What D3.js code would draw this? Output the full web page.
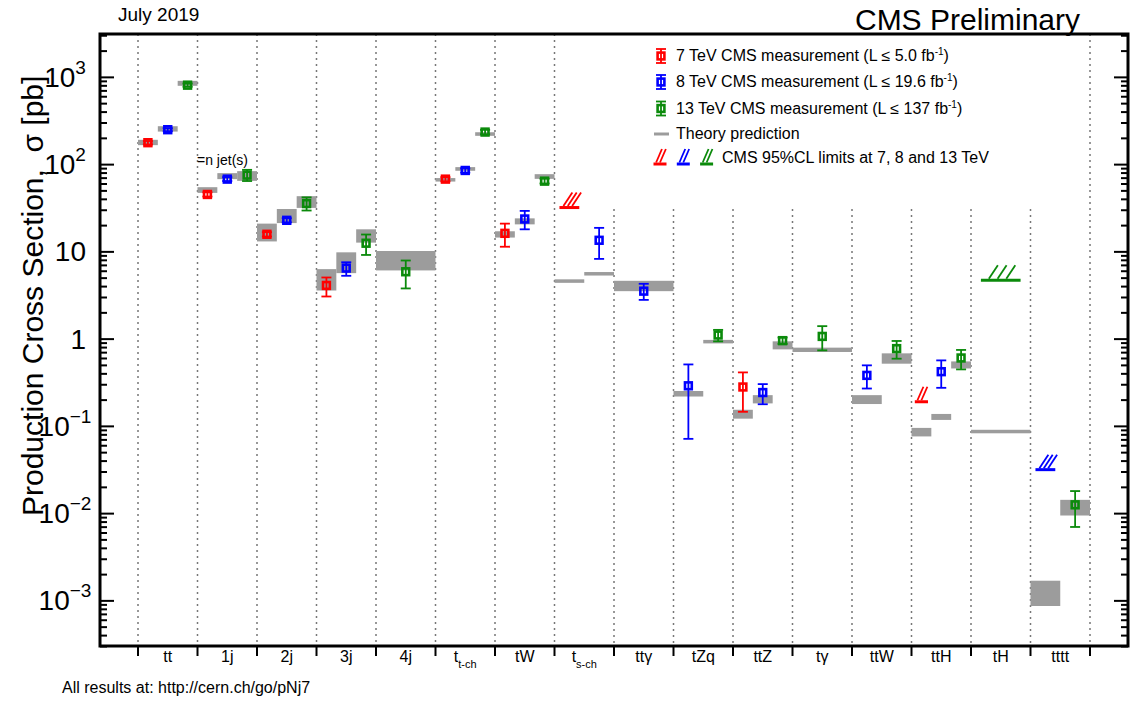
<!DOCTYPE html>
<html>
<head>
<meta charset="utf-8">
<script src="https://cdn.jsdelivr.net/npm/d3@7"></script>
<style>
  body { margin: 0; background: #fff; }
  text { font-family: "Liberation Sans", Arial, sans-serif; fill: #000; }
</style>
</head>
<body>
<svg width="1135" height="706"></svg>
<script>
// process bins along the x axis
const categories = ["tt", "1j", "2j", "3j", "4j", "t-ch", "tW", "s-ch", "ttg", "tZq", "ttZ", "tg", "ttW", "ttH", "tH", "tttt"];
const categoryLabels = [
    ["tt", ""], ["1j", ""], ["2j", ""], ["3j", ""], ["4j", ""], ["t", "t-ch"], ["tW", ""], ["t", "s-ch"],
    ["ttγ", ""], ["tZq", ""], ["ttZ", ""], ["tγ", ""], ["ttW", ""], ["ttH", ""], ["tH", ""], ["tttt", ""],
];
// beam energies sharing each bin (left to right)
const categoryEnergies = [
    ["7", "8", "13"], ["7", "8", "13"], ["7", "8", "13"], ["7", "8", "13"], ["13"],
    ["7", "8", "13"], ["7", "8", "13"], ["7", "8"], ["8"], ["8", "13"],
    ["7", "8", "13"], ["13"], ["8", "13"], ["7", "8", "13"], ["13"], ["8", "13"],
];

// measurements: [bin, sigma, low, high] in pb
const meas7 = [
    ["tt", 176, 168, 184], ["1j", 44.9, 42.5, 47.5], ["2j", 15.7, 14.8, 16.6], ["3j", 4.07, 3.04, 5.02],
    ["t-ch", 67.3, 63.5, 71], ["tW", 16.1, 11.3, 20.8], ["ttZ", 0.279, 0.145, 0.41],
];
const meas8 = [
    ["tt", 248, 238, 258], ["1j", 67.3, 64, 71], ["2j", 22.7, 21.5, 24], ["3j", 6.43, 5.25, 7.5],
    ["t-ch", 84.6, 80, 89.5], ["tW", 23.5, 17.9, 29.1], ["s-ch", 13.4, 8.2, 18.6], ["ttg", 3.5, 2.78, 4.25],
    ["tZq", 0.288, 0.071, 0.506], ["ttZ", 0.241, 0.177, 0.301], ["ttW", 0.379, 0.268, 0.494],
    ["ttH", 0.418, 0.273, 0.563],
];
const meas13 = [
    ["tt", 803, 770, 840], ["1j", 74.8, 64, 86], ["2j", 35.3, 29.4, 41.6], ["3j", 12.4, 9.1, 15.6],
    ["4j", 5.84, 3.76, 7.86], ["t-ch", 233, 220, 247], ["tW", 63.8, 60, 68], ["tZq", 1.1, 0.93, 1.26],
    ["ttZ", 0.948, 0.87, 1.03], ["tg", 1.06, 0.734, 1.39], ["ttW", 0.768, 0.589, 0.94],
    ["ttH", 0.6, 0.444, 0.742], ["tttt", 0.01245, 0.00694, 0.0179],
];

// theory predictions: [bin, energy, low, high]
const theory = [
    ["tt", "7", 165, 190], ["tt", "8", 236, 272], ["tt", "13", 790, 900],
    ["1j", "7", 46.8, 54.4], ["1j", "8", 67.3, 78.8], ["1j", "13", 64.3, 83.1],
    ["2j", "7", 13.0, 20.8], ["2j", "8", 21.1, 30.6], ["2j", "13", 31.5, 42.9],
    ["3j", "7", 3.56, 6.26], ["3j", "8", 5.63, 9.75], ["3j", "13", 12.6, 17.9],
    ["4j", "13", 6.05, 10.1],
    ["t-ch", "7", 63.1, 69.2], ["t-ch", "8", 83.9, 92.4], ["t-ch", "13", 211, 232],
    ["tW", "7", 14.4, 17.0], ["tW", "8", 20.4, 23.9], ["tW", "13", 67.8, 76.7],
    ["s-ch", "7", 4.37, 4.77], ["s-ch", "8", 5.30, 5.78],
    ["ttg", "8", 3.5, 4.6],
    ["tZq", "8", 0.217, 0.251], ["tZq", "13", 0.883, 0.966],
    ["ttZ", "7", 0.121, 0.153], ["ttZ", "8", 0.181, 0.225], ["ttZ", "13", 0.753, 0.931],
    ["tg", "13", 0.703, 0.788],
    ["ttW", "8", 0.178, 0.225], ["ttW", "13", 0.516, 0.678],
    ["ttH", "7", 0.0757, 0.0948], ["ttH", "8", 0.117, 0.137], ["ttH", "13", 0.455, 0.548],
    ["tH", "13", 0.0824, 0.090],
    ["tttt", "8", 0.000862, 0.00168], ["tttt", "13", 0.00939, 0.0142],
];

// 95% CL upper limits: [bin, energy, sigma]
const limits = [["s-ch", "7", 31.8], ["ttH", "7", 0.189], ["tH", "13", 4.67], ["tttt", "8", 0.0315]];

const legendLines = [
    ["7", "7 TeV CMS measurement (L ≤ 5.0 fb", ")"],
    ["8", "8 TeV CMS measurement (L ≤ 19.6 fb", ")"],
    ["13", "13 TeV CMS measurement (L ≤ 137 fb", ")"],
];

const colors = { "7": "#ff0000", "8": "#0000ff", "13": "#0b8a0b" };
const theoryColor = "#9c9c9c";

const svg = d3.select("svg");
const frame = { left: 100, right: 1128, top: 34, bottom: 646 };
const legendArea = { x0: 600, x1: 1060, bottom: 209 };

const x = d3.scaleBand().domain(categories).range([frame.left + 38, frame.right - 38]);
const y = d3.scaleLog().domain([3e-4, 3.1e3]).range([frame.bottom, frame.top]);

// sub-column scale inside a bin
function slot(cat) {
    const energies = categoryEnergies[categories.indexOf(cat)];
    return d3.scaleBand().domain(energies).range([x(cat), x(cat) + x.bandwidth()]);
}

// bin separators (dotted)
const bounds = categories.map((c) => x(c)).concat([x(categories[categories.length - 1]) + x.bandwidth()]);
svg.append("g")
    .selectAll("line")
    .data(bounds)
    .join("line")
    .attr("x1", (d) => d)
    .attr("x2", (d) => d)
    .attr("y1", (d) => (d > legendArea.x0 && d < legendArea.x1 ? legendArea.bottom : frame.top))
    .attr("y2", frame.bottom)
    .attr("stroke", "#777")
    .attr("stroke-width", 1.5)
    .attr("stroke-dasharray", "2,4");

// theory boxes
svg.append("g")
    .selectAll("rect")
    .data(theory)
    .join("rect")
    .attr("x", (d) => slot(d[0])(d[1]))
    .attr("width", (d) => slot(d[0]).bandwidth())
    .attr("y", (d) => {
        const h = Math.max(y(d[2]) - y(d[3]), 3.5);
        return (y(d[2]) + y(d[3])) / 2 - h / 2;
    })
    .attr("height", (d) => Math.max(y(d[2]) - y(d[3]), 3.5))
    .attr("fill", theoryColor);

// limits: base line plus hatching
function drawLimit(g, cx, cy, w, color) {
    g.append("line")
        .attr("x1", cx - w / 2).attr("x2", cx + w / 2)
        .attr("y1", cy).attr("y2", cy)
        .attr("stroke", color).attr("stroke-width", 3);
    const n = w > 16 ? 3 : 2;
    const dx = Math.min(9, w * 0.45);
    for (let k = 0; k < n; k++) {
        const x0 = cx - w / 2 + w * (n === 3 ? 0.2 + 0.22 * k : 0.2 + 0.3 * k);
        g.append("line")
            .attr("x1", x0).attr("y1", cy - 1.5)
            .attr("x2", x0 + dx).attr("y2", cy - 15)
            .attr("stroke", color).attr("stroke-width", 1.8);
    }
}
const limitG = svg.append("g");
limits.forEach((d) => {
    const s = slot(d[0]);
    drawLimit(limitG, s(d[1]) + s.bandwidth() / 2, y(d[2]), (s.bandwidth() * 2) / 3, colors[d[1]]);
});

// measurement markers with error bars
function drawMarker(g, cx, cy, ylo, yhi, color) {
    g.append("line").attr("x1", cx).attr("x2", cx).attr("y1", ylo).attr("y2", yhi)
        .attr("stroke", color).attr("stroke-width", 1.8);
    [ylo, yhi].forEach((yy) => {
        g.append("line").attr("x1", cx - 5).attr("x2", cx + 5).attr("y1", yy).attr("y2", yy)
            .attr("stroke", color).attr("stroke-width", 1.8);
    });
    g.append("rect").attr("x", cx - 3.4).attr("y", cy - 3.4).attr("width", 6.8).attr("height", 6.8)
        .attr("fill", "none").attr("stroke", color).attr("stroke-width", 2.6);
}
const markG = svg.append("g");
[["7", meas7], ["8", meas8], ["13", meas13]].forEach(([e, rows]) => {
    rows.forEach((d) => {
        const s = slot(d[0]);
        drawMarker(markG, s(e) + s.bandwidth() / 2, y(d[1]), y(d[2]), y(d[3]), colors[e]);
    });
});

// frame
svg.append("rect")
    .attr("x", frame.left).attr("y", frame.top)
    .attr("width", frame.right - frame.left).attr("height", frame.bottom - frame.top)
    .attr("fill", "none").attr("stroke", "#000").attr("stroke-width", 3);

// y ticks (both sides)
const majors = d3.range(-3, 4).map((n) => Math.pow(10, n));
const minors = [];
d3.range(-4, 4).forEach((n) => {
    d3.range(2, 10).forEach((k) => {
        const v = k * Math.pow(10, n);
        if (v > y.domain()[0] && v < y.domain()[1]) minors.push(v);
    });
});
function tickAxis(axis, size, values, tx) {
    svg.append("g")
        .attr("transform", `translate(${tx},0)`)
        .call(axis(y).tickValues(values).tickSize(size).tickFormat(""))
        .call((g) => g.select(".domain").remove())
        .call((g) => g.selectAll("line").attr("stroke-width", 2));
}
tickAxis(d3.axisRight, 14, majors, frame.left);
tickAxis(d3.axisRight, 7, minors, frame.left);
tickAxis(d3.axisLeft, 14, majors, frame.right);
tickAxis(d3.axisLeft, 7, minors, frame.right);

// y tick labels
const yLabels = svg.append("g");
majors.forEach((v) => {
    const n = Math.round(Math.log10(v));
    const t = yLabels.append("text").attr("y", y(v) + 10).attr("font-size", 28);
    if (n === 0 || n === 1) {
        t.attr("x", 86).attr("text-anchor", "end").text(n === 0 ? "1" : "10");
    } else {
        t.attr("x", 65).attr("text-anchor", "middle");
        t.append("tspan").text("10");
        t.append("tspan").attr("font-size", 19).attr("dy", -13)
            .text(n < 0 ? "\u2212" + -n : String(n));
    }
});

// x ticks below the axis and bin labels
svg.append("g")
    .selectAll("line")
    .data(bounds)
    .join("line")
    .attr("x1", (d) => d).attr("x2", (d) => d)
    .attr("y1", frame.bottom).attr("y2", frame.bottom + 10)
    .attr("stroke", "#000").attr("stroke-width", 2);

const xLabels = svg.append("g");
categories.forEach((c, i) => {
    const t = xLabels.append("text")
        .attr("x", x(c) + x.bandwidth() / 2)
        .attr("y", 662)
        .attr("text-anchor", "middle")
        .attr("font-size", 16);
    t.append("tspan").text(categoryLabels[i][0]);
    if (categoryLabels[i][1]) {
        t.append("tspan").attr("font-size", 11).attr("dy", 6).text(categoryLabels[i][1]);
    }
});

// axis title
svg.append("text")
    .attr("transform", "translate(43,516) rotate(-90)")
    .attr("font-size", 30)
    .text("Production Cross Section,\u00a0 σ [pb]");

// header / footer text
svg.append("text").attr("x", 118).attr("y", 21).attr("font-size", 19).text("July 2019");
svg.append("text").attr("x", 1080).attr("y", 30).attr("text-anchor", "end").attr("font-size", 30).text("CMS Preliminary");
svg.append("text").attr("x", 62).attr("y", 693).attr("font-size", 16).text("All results at: http://cern.ch/go/pNj7");
svg.append("text").attr("x", 197).attr("y", 165).attr("font-size", 14).text("=n jet(s)");

// legend
const legend = svg.append("g");
const legendY = [56, 82, 108.5];
legendLines.forEach((d, i) => {
    const cy = legendY[i];
    drawMarker(legend, 661, cy, cy + 7, cy - 7, colors[d[0]]);
    const t = legend.append("text").attr("x", 676).attr("y", cy + 5).attr("font-size", 16);
    t.append("tspan").text(d[1]);
    t.append("tspan").attr("font-size", 10).attr("dy", -6).text("-1");
    t.append("tspan").attr("dy", 6).text(d[2]);
});
legend.append("line")
    .attr("x1", 654).attr("x2", 669).attr("y1", 134).attr("y2", 134)
    .attr("stroke", theoryColor).attr("stroke-width", 3);
legend.append("text").attr("x", 676).attr("y", 139).attr("font-size", 16).text("Theory prediction");
["7", "8", "13"].forEach((e, i) => {
    drawLimit(legend, 660 + i * 23.3, 164, 13, colors[e]);
});
legend.append("text").attr("x", 722).attr("y", 163).attr("font-size", 16).text("CMS 95%CL limits at 7, 8 and 13 TeV");
</script>
</body>
</html>
